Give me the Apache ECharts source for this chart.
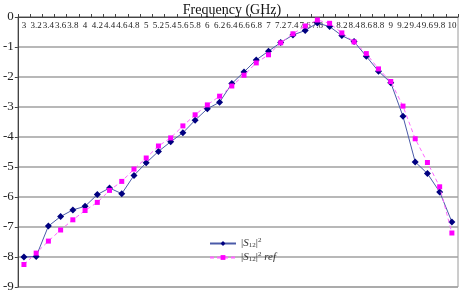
<!DOCTYPE html>
<html>
<head>
<meta charset="utf-8">
<script src="https://cdn.jsdelivr.net/npm/echarts@6/dist/echarts.min.js"></script>
<style>
  html, body { margin: 0; padding: 0; background: #fff; }
  #chart { width: 464px; height: 296px; }
</style>
</head>
<body>
<div id="chart"></div>
<script>
// frequency categories (GHz)
var freqLabels = ['3', '3.2', '3.4', '3.6', '3.8', '4', '4.2', '4.4', '4.6', '4.8',
  '5', '5.2', '5.4', '5.6', '5.8', '6', '6.2', '6.4', '6.6', '6.8',
  '7', '7.2', '7.4', '7.6', '7.8', '8', '8.2', '8.4', '8.6', '8.8',
  '9', '9.2', '9.4', '9.6', '9.8', '10'];

// |S12|^2 measured
var s12 = [-8.0, -7.98, -6.97, -6.65, -6.43, -6.31, -5.92, -5.7, -5.89, -5.28,
  -4.86, -4.48, -4.16, -3.86, -3.44, -3.06, -2.84, -2.22, -1.83, -1.43,
  -1.14, -0.85, -0.6, -0.45, -0.2, -0.32, -0.62, -0.82, -1.31, -1.81,
  -2.19, -3.31, -4.83, -5.22, -5.83, -6.83];

// |S12|^2 ref
var s12Ref = [-8.25, -7.87, -7.47, -7.1, -6.76, -6.45, -6.18, -5.78, -5.48, -5.07,
  -4.7, -4.3, -4.03, -3.63, -3.26, -2.93, -2.64, -2.3, -1.94, -1.53,
  -1.26, -0.86, -0.56, -0.3, -0.1, -0.21, -0.53, -0.83, -1.22, -1.73,
  -2.15, -2.97, -4.06, -4.85, -5.66, -7.2];

var yTicks = [0, -1, -2, -3, -4, -5, -6, -7, -8, -9];

var SERIF = '"Liberation Serif","DejaVu Serif",serif';
var NAVY = '#000080';
var MAGENTA = '#ff00ff';

var chart = echarts.init(document.getElementById('chart'));

chart.setOption({
  animation: false,
  textStyle: { fontFamily: SERIF },
  title: {
    text: 'Frequency (GHz)',
    left: 'center',
    top: -2,
    textStyle: { fontFamily: SERIF, fontSize: 14, fontWeight: 'normal', color: '#111' }
  },
  grid: {
    left: 16, right: 6, top: 17, bottom: 9,
    show: true, borderColor: '#9a9a9a', borderWidth: 1
  },
  legend: {
    left: 204, top: 232,
    orient: 'vertical',
    itemWidth: 26, itemHeight: 6, itemGap: 2,
    textStyle: {
      fontFamily: SERIF, fontSize: 11, color: '#333',
      rich: {
        s: { fontFamily: SERIF, fontSize: 11, fontStyle: 'italic', color: '#333' },
        sub: { fontFamily: SERIF, fontSize: 7, color: '#333', padding: [4, 0, 0, 0] },
        sup: { fontFamily: SERIF, fontSize: 7, color: '#333', padding: [0, 0, 6, 0] },
        r: { fontFamily: SERIF, fontSize: 11, fontStyle: 'italic', color: '#333' }
      }
    },
    formatter: function (name) {
      var base = '|{s|S}{sub|12}|{sup|2}';
      return name === 'ref' ? base + ' {r|ref}' : base;
    },
    data: ['meas', 'ref']
  },
  xAxis: {
    type: 'category',
    position: 'top',
    data: freqLabels,
    boundaryGap: true,
    axisLine: { lineStyle: { color: '#444', width: 1 } },
    axisTick: { show: true, inside: false, length: 3, lineStyle: { color: '#444' } },
    axisLabel: {
      inside: true, interval: 0, margin: 4,
      fontFamily: SERIF, fontSize: 9, color: '#222'
    },
    splitLine: { show: false }
  },
  yAxis: {
    type: 'value',
    min: -9, max: 0, interval: 1,
    axisLine: { show: true, lineStyle: { color: '#444', width: 1 } },
    axisTick: { show: true, length: 3, lineStyle: { color: '#444' } },
    axisLabel: {
      margin: 4, fontFamily: SERIF, fontSize: 13, color: '#222',
      formatter: function (v) { return yTicks.indexOf(v) >= 0 ? String(v) : ''; }
    },
    splitLine: { lineStyle: { color: '#a0a0a0', width: 1.5 } }
  },
  series: [
    {
      name: 'meas',
      type: 'line',
      data: s12,
      symbol: 'diamond',
      symbolSize: 7,
      lineStyle: { color: '#4a5aa8', width: 1 },
      itemStyle: { color: NAVY },
      z: 2
    },
    {
      name: 'ref',
      type: 'line',
      data: s12Ref,
      symbol: 'rect',
      symbolSize: 5,
      lineStyle: { color: '#ff66ff', width: 1, type: [4, 3] },
      itemStyle: { color: MAGENTA },
      z: 3
    }
  ]
});
</script>
</body>
</html>
